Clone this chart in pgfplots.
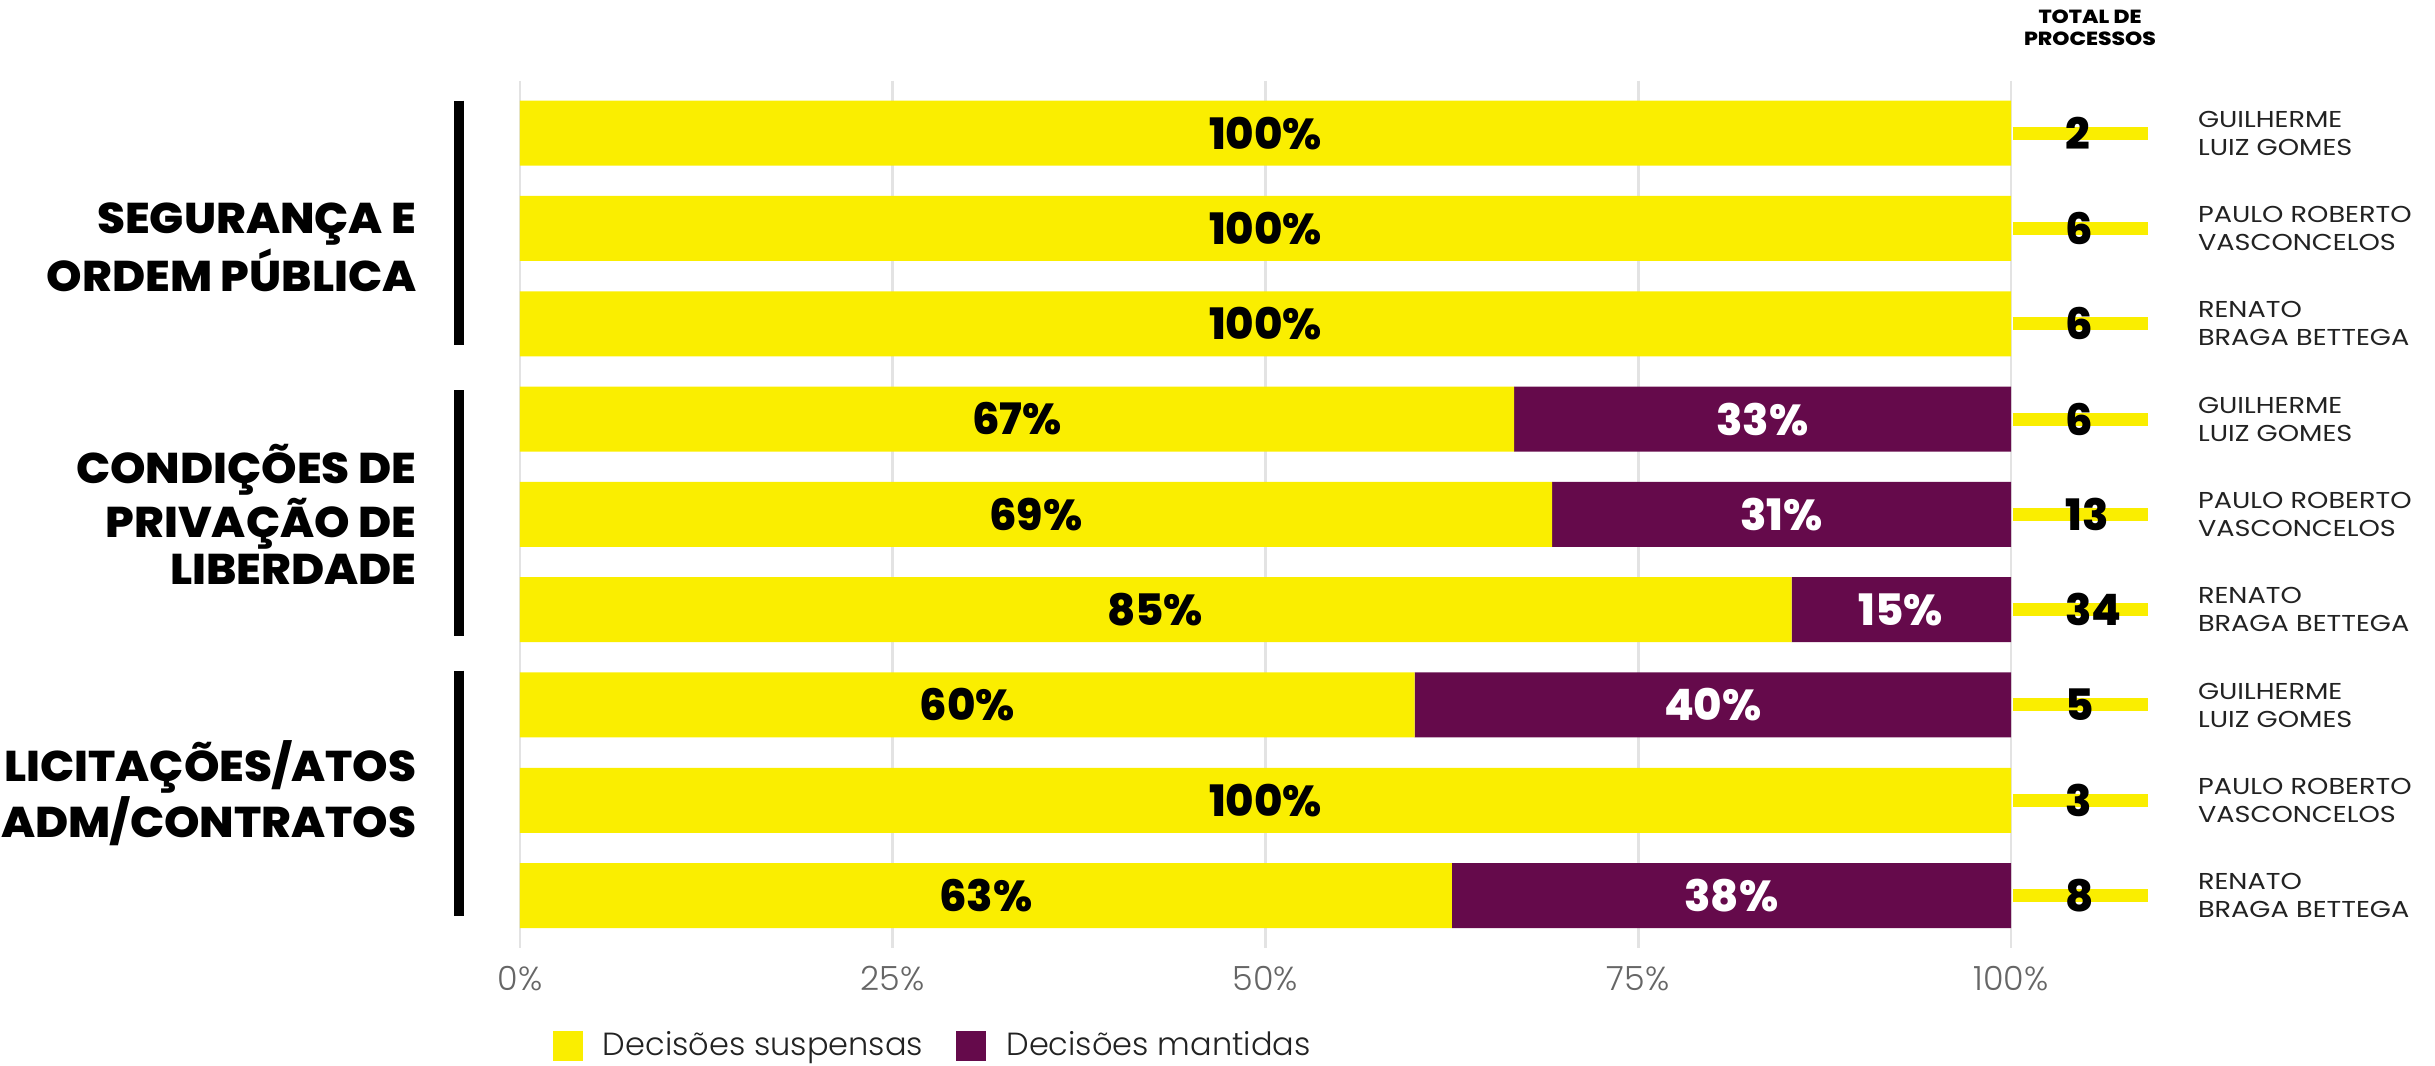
\documentclass[border=0pt]{standalone}
\usepackage{pgfplots}
\pgfplotsset{compat=1.18}
\usepackage{pgfplotstable}
\usepackage{fontspec}
\setmainfont{Poppins}
\IfFontExistsTF{Poppins Light}{\newfontfamily\lightfont{Poppins Light}}{\newfontfamily\lightfont{Poppins}}
\newfontfamily\regfont{Poppins}[FakeStretch=1.18]
\IfFontExistsTF{Poppins ExtraBold}{%
  \newfontfamily\heavyfont{Poppins ExtraBold}[FakeStretch=1.05]%
  \newfontfamily\hdrfont{Poppins ExtraBold}[FakeStretch=1.15]%
  \newfontfamily\numfont{Poppins ExtraBold}}{%
  \newfontfamily\heavyfont{Poppins Bold}[FakeStretch=1.1]%
  \newfontfamily\hdrfont{Poppins Bold}[FakeStretch=1.15]%
  \newfontfamily\numfont{Poppins Bold}}
\definecolor{amarelo}{HTML}{FAEE00}
\definecolor{roxo}{HTML}{650A4B}
\definecolor{grade}{HTML}{E3E3E3}
\definecolor{ticktext}{HTML}{666666}
\definecolor{nometext}{HTML}{222222}
\pgfplotstableread{
row sus man
0 100 0
1 100 0
2 100 0
3 66.67 33.33
4 69.23 30.77
5 85.29 14.71
6 60 40
7 100 0
8 62.5 37.5
}\dados
\newcommand\catfont{\heavyfont\fontsize{12.9pt}{14.1pt}\selectfont}
\newcommand\valfont{\numfont\fontsize{13pt}{14pt}\selectfont}
\newcommand\nomefont{\regfont\fontsize{6.9pt}{8.4pt}\selectfont}
\tikzset{
  vy/.style={font=\valfont, text=black},
  vw/.style={font=\valfont, text=white},
  tot/.style={font=\valfont, text=black, anchor=west, inner xsep=0pt},
  stub/.style={amarelo, line width=3.9pt},
  nome/.style={font=\nomefont, text=nometext, anchor=west, align=left, inner sep=0pt},
  cat/.style={font=\catfont, anchor=east, align=right, inner sep=0pt},
}
\pgfplotsset{geom/.style={at={(0,0)}, anchor=south west,
  scale only axis, width=447.3pt, height=260.2pt,
  xmin=0, xmax=100, ymin=-0.55, ymax=8.55, y dir=reverse, clip=false}}
\begin{document}
\begin{tikzpicture}
\begin{axis}[
  geom,
  xbar stacked, bar width=19.5pt,
  axis line style={draw=none},
  xtick={0,25,50,75,100}, xticklabels={0\%,25\%,50\%,75\%,100\%},
  ytick=\empty,
  major tick style={draw=none},
  xmajorgrids, grid style={grade, line width=0.8pt},
  xticklabel style={font=\lightfont\fontsize{10pt}{12pt}\selectfont, text=ticktext, anchor=base, yshift=-12.6pt},
  legend columns=2,
  legend style={at={(0.0221,-0.113)}, anchor=west, draw=none, inner sep=0pt, outer sep=0pt,
    font=\lightfont\fontsize{9.6pt}{12pt}\selectfont, text=nometext,
    nodes={inner sep=0pt},
    /tikz/every odd column/.append style={column sep=6pt},
    /tikz/every even column/.append style={column sep=10pt}},
  legend image code/.code={\path[#1,draw=none] (0pt,-4.5pt) rectangle (9pt,4.5pt);},
]
\addplot[fill=amarelo, draw=none] table[x=sus, y=row] {\dados};
\addlegendentry{Decisões suspensas}
\addplot[fill=roxo, draw=none] table[x=man, y=row] {\dados};
\addlegendentry{Decisões mantidas}

\draw[stub] (axis cs:100.1,0) -- (axis cs:109.2,0);
\draw[stub] (axis cs:100.1,1) -- (axis cs:109.2,1);
\draw[stub] (axis cs:100.1,2) -- (axis cs:109.2,2);
\draw[stub] (axis cs:100.1,3) -- (axis cs:109.2,3);
\draw[stub] (axis cs:100.1,4) -- (axis cs:109.2,4);
\draw[stub] (axis cs:100.1,5) -- (axis cs:109.2,5);
\draw[stub] (axis cs:100.1,6) -- (axis cs:109.2,6);
\draw[stub] (axis cs:100.1,7) -- (axis cs:109.2,7);
\draw[stub] (axis cs:100.1,8) -- (axis cs:109.2,8);
\draw[black, line width=3pt] (axis cs:-4.09,-0.34) -- (axis cs:-4.09,2.22);
\draw[black, line width=3pt] (axis cs:-4.09,2.70) -- (axis cs:-4.09,5.28);
\draw[black, line width=3pt] (axis cs:-4.09,5.64) -- (axis cs:-4.09,8.21);
\end{axis}

\begin{axis}[geom, hide axis]
\node[vy] at (axis cs:50,0) {100\%};
\node[vy] at (axis cs:50,1) {100\%};
\node[vy] at (axis cs:50,2) {100\%};
\node[vy] at (axis cs:33.33,3) {67\%};
\node[vy] at (axis cs:34.6,4) {69\%};
\node[vy] at (axis cs:42.6,5) {85\%};
\node[vy] at (axis cs:30,6) {60\%};
\node[vy] at (axis cs:50,7) {100\%};
\node[vy] at (axis cs:31.25,8) {63\%};
\node[vw] at (axis cs:83.33,3) {33\%};
\node[vw] at (axis cs:84.6,4) {31\%};
\node[vw] at (axis cs:92.6,5) {15\%};
\node[vw] at (axis cs:80,6) {40\%};
\node[vw] at (axis cs:81.25,8) {38\%};

\node[tot] at (axis cs:103.6,0) {2};
\node[tot] at (axis cs:103.6,1) {6};
\node[tot] at (axis cs:103.6,2) {6};
\node[tot] at (axis cs:103.6,3) {6};
\node[tot] at (axis cs:103.6,4) {13};
\node[tot] at (axis cs:103.6,5) {34};
\node[tot] at (axis cs:103.6,6) {5};
\node[tot] at (axis cs:103.6,7) {3};
\node[tot] at (axis cs:103.6,8) {8};

\node[nome] at (axis cs:112.5,0) {GUILHERME\\LUIZ GOMES};
\node[nome] at (axis cs:112.5,1) {PAULO ROBERTO\\VASCONCELOS};
\node[nome] at (axis cs:112.5,2) {RENATO\\BRAGA BETTEGA};
\node[nome] at (axis cs:112.5,3) {GUILHERME\\LUIZ GOMES};
\node[nome] at (axis cs:112.5,4) {PAULO ROBERTO\\VASCONCELOS};
\node[nome] at (axis cs:112.5,5) {RENATO\\BRAGA BETTEGA};
\node[nome] at (axis cs:112.5,6) {GUILHERME\\LUIZ GOMES};
\node[nome] at (axis cs:112.5,7) {PAULO ROBERTO\\VASCONCELOS};
\node[nome] at (axis cs:112.5,8) {RENATO\\BRAGA BETTEGA};

\node[font=\hdrfont\fontsize{5.7pt}{6.6pt}\selectfont, align=center, inner sep=0pt] at (axis cs:105.3,-1.107) {TOTAL DE\\PROCESSOS};

\node[cat] at (axis cs:-6.9,1.2) {SEGURANÇA E\\ORDEM PÚBLICA};
\node[cat] at (axis cs:-6.9,4.0) {CONDIÇÕES DE\\PRIVAÇÃO DE\\LIBERDADE};
\node[cat] at (axis cs:-6.9,6.93) {LICITAÇÕES/ATOS\\ADM/CONTRATOS};
\end{axis}
\pgfresetboundingbox
\path[use as bounding box] (-156pt,-35.1pt) rectangle (574.5pt,284.4pt);
\end{tikzpicture}
\end{document}
